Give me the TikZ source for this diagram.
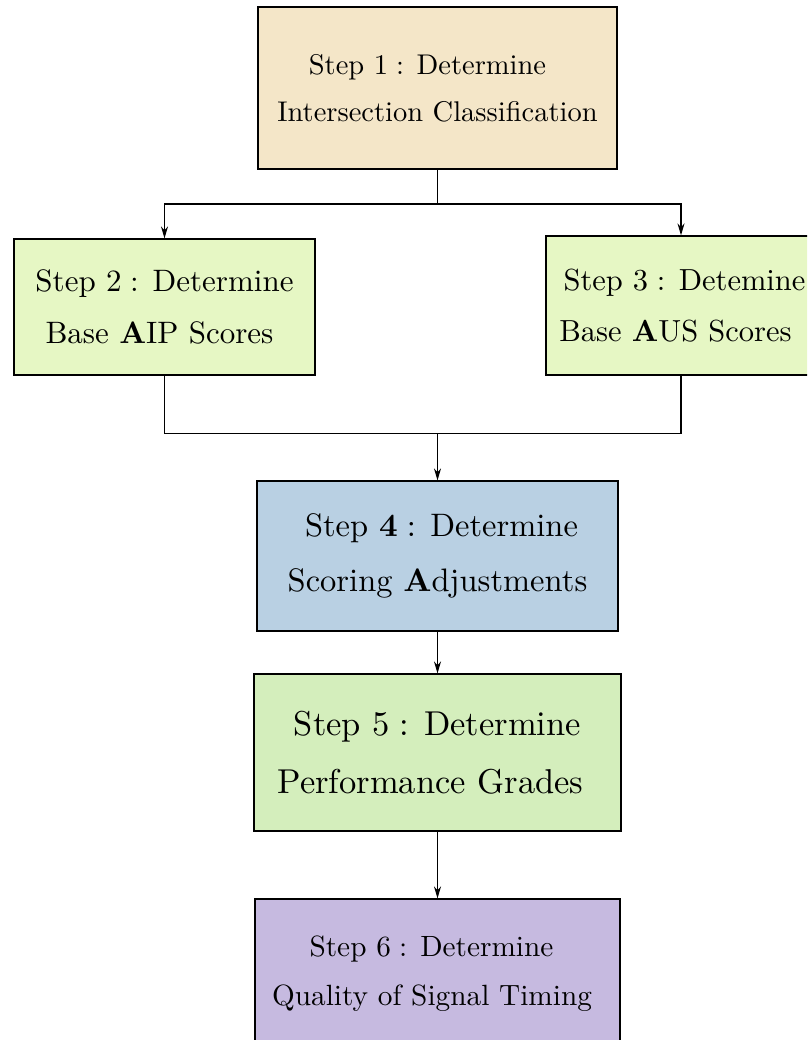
\documentclass[tikz,border=0pt]{standalone}
\usepackage{fontspec}
\setmainfont{lmroman10-regular.otf}[BoldFont=lmroman10-bold.otf]
\usetikzlibrary{arrows.meta}
\definecolor{tanfill}{RGB}{244,230,200}
\definecolor{limefill}{RGB}{230,247,196}
\definecolor{bluefill}{RGB}{185,208,227}
\definecolor{greenfill}{RGB}{212,238,188}
\definecolor{lilacfill}{RGB}{198,186,224}
\newcommand{\stepno}[1]{#1\hspace{0.28em}:}
% blank box used to nudge a centred line sideways
\newcommand{\pad}[1]{\makebox[#1]{}}
\tikzset{
  stepbox/.style={draw=black, line width=1.2pt, align=center, inner sep=0pt,
    minimum width=#1},
  link/.style={line width=1.2pt},
  flow/.style={link, -{Stealth[length=12pt,width=7pt]}}
}
\begin{document}
\begin{tikzpicture}[x=1pt, y=-1pt]
\useasboundingbox (0,0) rectangle (807,1040);
\clip (0,0) rectangle (807,1040);

\node[stepbox=359pt, fill=tanfill, minimum height=162pt,
      font={\fontsize{28.5}{47}\selectfont}] (s1) at (437.5,88)
  {Step \stepno{1} Determine\pad{20pt}\\Intersection Classification};
\node[stepbox=301pt, fill=limefill, minimum height=136pt,
      font={\fontsize{31}{52}\selectfont}] (s2) at (164.5,307)
  {Step \stepno{2} Determine\\Base \textbf{A}IP Scores\pad{10pt}};
\node[stepbox=270pt, fill=limefill, minimum height=139pt,
      font={\fontsize{30.5}{51}\selectfont}] (s3) at (681,305.5)
  {\pad{7pt}Step \stepno{3} Detemine\\Base \textbf{A}US Scores\pad{11pt}};
\node[stepbox=361pt, fill=bluefill, minimum height=150pt,
      font={\fontsize{32.5}{55}\selectfont}] (s4) at (437.5,556)
  {\pad{8pt}Step \stepno{\textbf{4}} Determine\\Scoring \textbf{A}djustments};
\node[stepbox=367pt, fill=greenfill, minimum height=157pt,
      font={\fontsize{34.5}{58}\selectfont}] (s5) at (437.5,752.5)
  {Step \stepno{5} Determine\\Performance Grades\pad{14pt}};
\node[stepbox=365pt, fill=lilacfill, minimum height=150pt,
      font={\fontsize{29.3}{49}\selectfont}] (s6) at (437.5,974)
  {Step \stepno{6} Determine\pad{12pt}\\Quality of Signal Timing\pad{11pt}};

% split below step 1
\coordinate (j1) at (437.5,204);
\draw[link] (s1.south) -- (j1);
\draw[flow] (j1) -| (s2.north);
\draw[flow] (j1) -| (s3.north);

% merge into step 4
\coordinate (j2) at (437.5,433.5);
\draw[link] (s2.south) |- (j2);
\draw[link] (s3.south) |- (j2);
\draw[flow] (j2) -- (s4.north);

\draw[flow] (s4.south) -- (s5.north);
\draw[flow] (s5.south) -- (s6.north);
\end{tikzpicture}
\end{document}
